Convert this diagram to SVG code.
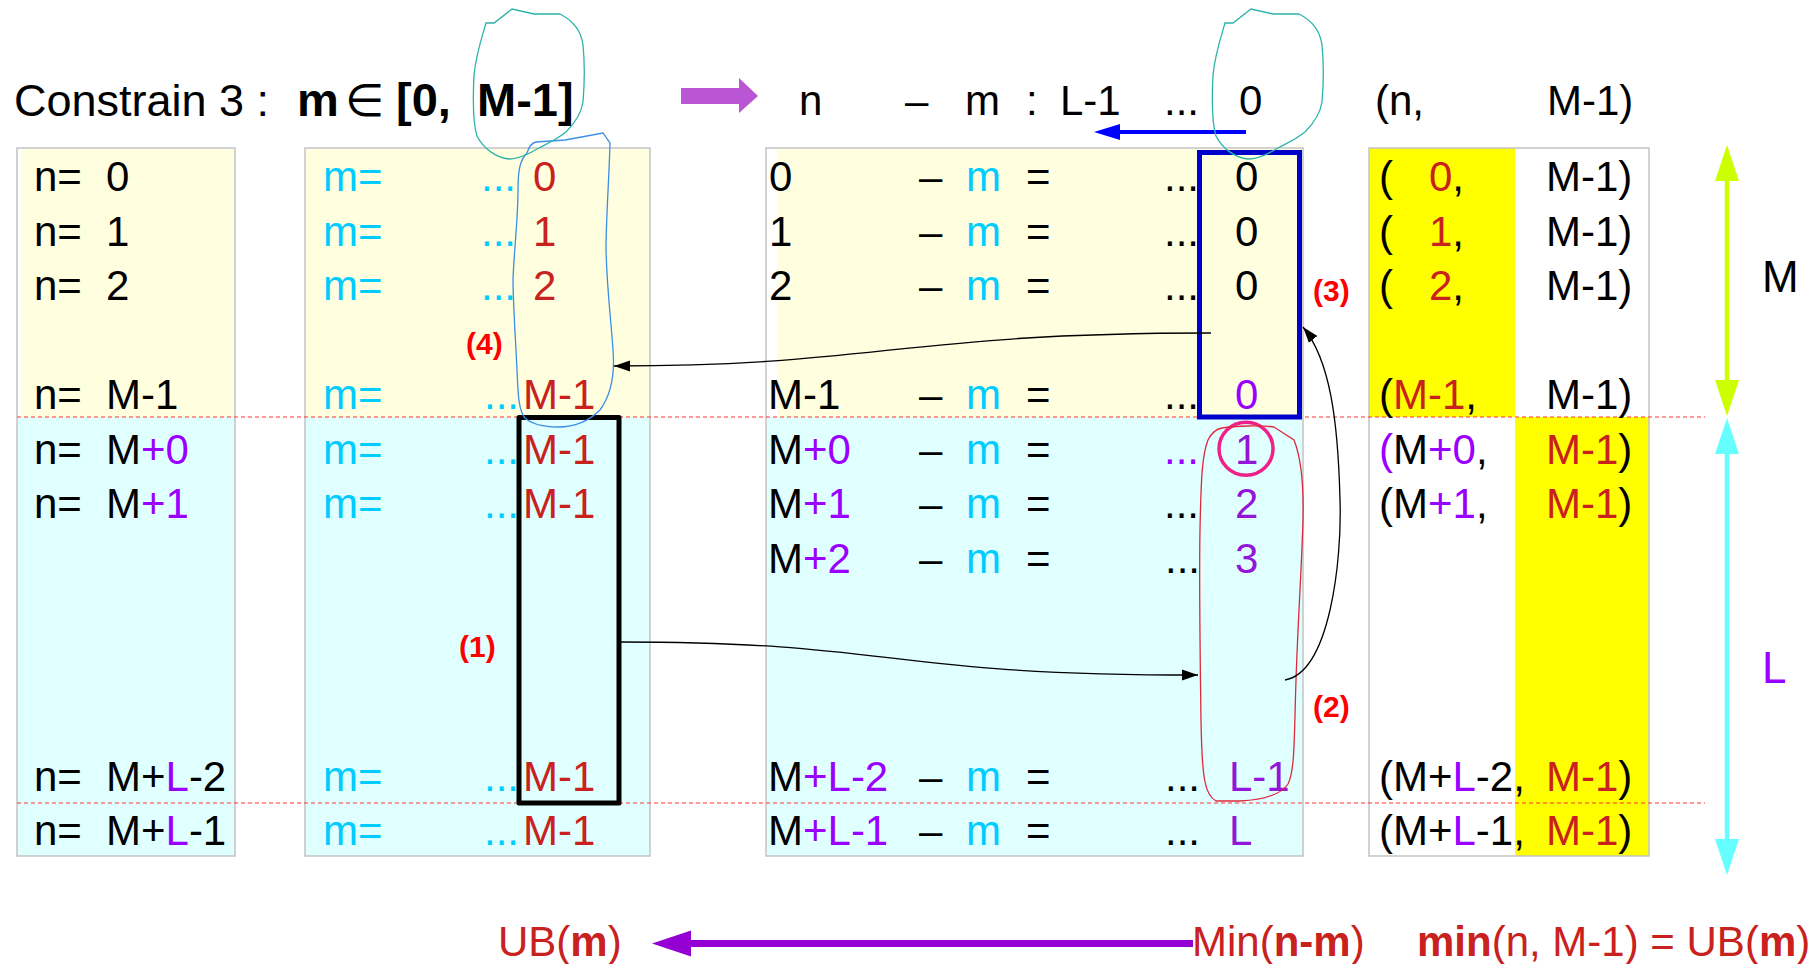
<svg xmlns="http://www.w3.org/2000/svg" xmlns:xlink="http://www.w3.org/1999/xlink" width="1816" height="964" viewBox="0 0 1816 964">
<style>
.t{font-family:'Liberation Sans',Arial,'DejaVu Sans',sans-serif;font-size:42px;fill:#000}
.ti{font-family:'Liberation Sans',Arial,'DejaVu Sans',sans-serif;font-size:45px;fill:#000}
.b{font-weight:bold}
.r{fill:#c9211e}
.c{fill:#00ccff}
.p{fill:#9900ff}
.v{fill:#9316d8}
.lbl{font-family:'Liberation Sans',Arial,sans-serif;font-size:30px;font-weight:bold;fill:#ff0000}
.border{fill:none;stroke:#c3c3c3;stroke-width:1.5}
.ly{fill:#ffffe0}
.lc{fill:#e0ffff}
.yy{fill:#ffff00}
.dash{stroke:#ff3333;stroke-width:1.2;stroke-dasharray:4 3;fill:none}
.conn{fill:none;stroke:#000;stroke-width:1.3}
.loop{fill:none;stroke-width:1.3}
</style>
<defs>
<marker id="ah" markerUnits="userSpaceOnUse" markerWidth="18" markerHeight="12" refX="16" refY="6" orient="auto">
<path d="M0,0.5 L16,6 L0,11.5 Z" fill="#000"/>
</marker>
<path id="tealLoop" d="M1225,23 L1233,23 L1251,9 L1273,14 L1299,14 C1311,20 1320,30 1322,45 C1324,65 1323,90 1322,102 C1320,115 1312,125 1305,132 C1295,140 1285,144 1278,148 C1268,154 1258,159 1248,159 C1235,158 1222,148 1216,136 C1211,120 1212,95 1213,75 C1215,55 1220,40 1225,23 Z"/>
</defs>
<rect width="1816" height="964" fill="#fff"/>

<g id="title">
<text class="ti" y="116"><tspan x="14">Constrain 3 :</tspan><tspan x="297" class="b" style="font-size:47px">m</tspan><tspan x="345">∈</tspan><tspan x="396" class="b" style="font-size:47px">[0,</tspan><tspan x="477" class="b" style="font-size:47px">M-1]</tspan></text>
<path d="M681,88 L739,88 L739,78 L758,96 L739,113 L739,104 L681,104 Z" fill="#ba55d3"/>
</g>

<g id="header">
<text class="t" y="115"><tspan x="799">n</tspan><tspan x="905">–</tspan><tspan x="965">m</tspan><tspan x="1026">:</tspan><tspan x="1060">L-1</tspan><tspan x="1164">...</tspan><tspan x="1239">0</tspan><tspan x="1375">(n,</tspan><tspan x="1547">M-1)</tspan></text>
<line x1="1246" y1="132" x2="1118" y2="132" stroke="#0000ff" stroke-width="4"/>
<path d="M1094,132 L1120,124 L1120,140 Z" fill="#0000ff"/>
</g>

<g id="table-n">
<rect class="ly" x="21" y="149" width="214" height="268"/>
<rect class="lc" x="17" y="417" width="218" height="439"/>
<rect class="border" x="17" y="148" width="218" height="708"/>
</g>
<g id="table-m">
<rect class="ly" x="305" y="149" width="345" height="268"/>
<rect class="lc" x="305" y="417" width="345" height="439"/>
<rect class="border" x="305" y="148" width="345" height="708"/>
</g>
<g id="table-nm">
<rect class="ly" x="777" y="149" width="526" height="268"/>
<rect class="lc" x="766" y="417" width="537" height="439"/>
<rect class="border" x="766" y="148" width="537" height="708"/>
</g>
<g id="table-pair">
<rect class="yy" x="1369" y="148" width="146" height="269"/>
<rect class="yy" x="1515" y="417" width="134" height="439"/>
<rect class="border" x="1369" y="148" width="280" height="708"/>
</g>

<g id="guides">
<line class="dash" x1="17" y1="417" x2="1705" y2="417"/>
<line class="dash" x1="17" y1="803" x2="1705" y2="803"/>
</g>

<g id="text-n">
<text class="t" y="191"><tspan x="34">n=</tspan><tspan x="106">0</tspan></text>
<text class="t" y="245.5"><tspan x="34">n=</tspan><tspan x="106">1</tspan></text>
<text class="t" y="300"><tspan x="34">n=</tspan><tspan x="106">2</tspan></text>
<text class="t" y="409"><tspan x="34">n=</tspan><tspan x="106">M-1</tspan></text>
<text class="t" y="463.5"><tspan x="34">n=</tspan><tspan x="106">M</tspan><tspan class="p">+0</tspan></text>
<text class="t" y="518"><tspan x="34">n=</tspan><tspan x="106">M</tspan><tspan class="p">+1</tspan></text>
<text class="t" y="790.5"><tspan x="34">n=</tspan><tspan x="106">M+</tspan><tspan class="p">L</tspan><tspan>-2</tspan></text>
<text class="t" y="845"><tspan x="34">n=</tspan><tspan x="106">M+</tspan><tspan class="p">L</tspan><tspan>-1</tspan></text>
</g>

<g id="text-m">
<text class="t" y="191"><tspan x="323" class="c">m=</tspan><tspan x="481" class="c">...</tspan><tspan x="533" class="r">0</tspan></text>
<text class="t" y="245.5"><tspan x="323" class="c">m=</tspan><tspan x="481" class="c">...</tspan><tspan x="533" class="r">1</tspan></text>
<text class="t" y="300"><tspan x="323" class="c">m=</tspan><tspan x="481" class="c">...</tspan><tspan x="533" class="r">2</tspan></text>
<text class="t" y="409"><tspan x="323" class="c">m=</tspan><tspan x="484" class="c">...</tspan><tspan x="523" class="r">M-1</tspan></text>
<text class="t" y="463.5"><tspan x="323" class="c">m=</tspan><tspan x="484" class="c">...</tspan><tspan x="523" class="r">M-1</tspan></text>
<text class="t" y="518"><tspan x="323" class="c">m=</tspan><tspan x="484" class="c">...</tspan><tspan x="523" class="r">M-1</tspan></text>
<text class="t" y="790.5"><tspan x="323" class="c">m=</tspan><tspan x="484" class="c">...</tspan><tspan x="523" class="r">M-1</tspan></text>
<text class="t" y="845"><tspan x="323" class="c">m=</tspan><tspan x="484" class="c">...</tspan><tspan x="523" class="r">M-1</tspan></text>
</g>

<g id="text-nm">
<text class="t" y="191"><tspan x="769">0</tspan><tspan x="919">–</tspan><tspan x="966" class="c">m</tspan><tspan x="1026">=</tspan><tspan x="1164">...</tspan><tspan x="1235">0</tspan></text>
<text class="t" y="245.5"><tspan x="769">1</tspan><tspan x="919">–</tspan><tspan x="966" class="c">m</tspan><tspan x="1026">=</tspan><tspan x="1164">...</tspan><tspan x="1235">0</tspan></text>
<text class="t" y="300"><tspan x="769">2</tspan><tspan x="919">–</tspan><tspan x="966" class="c">m</tspan><tspan x="1026">=</tspan><tspan x="1164">...</tspan><tspan x="1235">0</tspan></text>
<text class="t" y="409"><tspan x="768">M-1</tspan><tspan x="919">–</tspan><tspan x="966" class="c">m</tspan><tspan x="1026">=</tspan><tspan x="1164">...</tspan><tspan x="1235" class="p">0</tspan></text>
<text class="t" y="463.5"><tspan x="768">M</tspan><tspan class="p">+0</tspan><tspan x="919">–</tspan><tspan x="966" class="c">m</tspan><tspan x="1026">=</tspan><tspan x="1164" class="p">...</tspan><tspan x="1235" class="v">1</tspan></text>
<text class="t" y="518"><tspan x="768">M</tspan><tspan class="p">+1</tspan><tspan x="919">–</tspan><tspan x="966" class="c">m</tspan><tspan x="1026">=</tspan><tspan x="1164">...</tspan><tspan x="1235" class="v">2</tspan></text>
<text class="t" y="572.5"><tspan x="768">M</tspan><tspan class="p">+2</tspan><tspan x="919">–</tspan><tspan x="966" class="c">m</tspan><tspan x="1026">=</tspan><tspan x="1165">...</tspan><tspan x="1235" class="v">3</tspan></text>
<text class="t" y="790.5"><tspan x="768">M</tspan><tspan class="p">+L-2</tspan><tspan x="919">–</tspan><tspan x="966" class="c">m</tspan><tspan x="1026">=</tspan><tspan x="1165">...</tspan><tspan x="1229" class="v">L-1</tspan></text>
<text class="t" y="845"><tspan x="768">M</tspan><tspan class="p">+L-1</tspan><tspan x="919">–</tspan><tspan x="966" class="c">m</tspan><tspan x="1026">=</tspan><tspan x="1165">...</tspan><tspan x="1229" class="v">L</tspan></text>
</g>

<g id="text-pair">
<text class="t" y="191"><tspan x="1379">(</tspan><tspan x="1429" class="r">0</tspan><tspan>,</tspan><tspan x="1546">M-1)</tspan></text>
<text class="t" y="245.5"><tspan x="1379">(</tspan><tspan x="1429" class="r">1</tspan><tspan>,</tspan><tspan x="1546">M-1)</tspan></text>
<text class="t" y="300"><tspan x="1379">(</tspan><tspan x="1429" class="r">2</tspan><tspan>,</tspan><tspan x="1546">M-1)</tspan></text>
<text class="t" y="409"><tspan x="1379">(</tspan><tspan class="r">M-1</tspan><tspan>,</tspan><tspan x="1546">M-1)</tspan></text>
<text class="t" y="463.5"><tspan x="1379" class="p">(</tspan><tspan>M</tspan><tspan class="p">+0</tspan><tspan>,</tspan><tspan x="1546" class="r">M-1</tspan><tspan>)</tspan></text>
<text class="t" y="518"><tspan x="1379">(M</tspan><tspan class="p">+1</tspan><tspan>,</tspan><tspan x="1546" class="r">M-1</tspan><tspan>)</tspan></text>
<text class="t" y="790.5"><tspan x="1379">(M+</tspan><tspan class="p">L</tspan><tspan>-2,</tspan><tspan x="1546" class="r">M-1</tspan><tspan>)</tspan></text>
<text class="t" y="845"><tspan x="1379">(M+</tspan><tspan class="p">L</tspan><tspan>-1,</tspan><tspan x="1546" class="r">M-1</tspan><tspan>)</tspan></text>
</g>

<g id="range-M">
<line x1="1727" y1="178" x2="1727" y2="383" stroke="#ccff00" stroke-width="4.5"/>
<path d="M1727,145 L1739,181 L1715,181 Z M1727,416 L1739,380 L1715,380 Z" fill="#ccff00"/>
<text class="t" x="1762" y="292" style="font-size:44px">M</text>
</g>
<g id="range-L">
<line x1="1727" y1="450" x2="1727" y2="842" stroke="#66ffff" stroke-width="4.5"/>
<path d="M1727,418 L1739,454 L1715,454 Z M1727,875 L1739,839 L1715,839 Z" fill="#66ffff"/>
<text class="t p" x="1762" y="683" style="font-size:44px">L</text>
</g>

<g id="highlights">
<rect x="519" y="417.5" width="100" height="385.5" fill="none" stroke="#000" stroke-width="5" stroke-linejoin="round"/>
<rect x="1199.5" y="152.5" width="100" height="264.5" fill="none" stroke="#0000cc" stroke-width="5"/>
<ellipse cx="1246" cy="448.7" rx="27" ry="26.5" fill="none" stroke="#f0208a" stroke-width="3.5"/>
<path class="loop" stroke="#e0283c" d="M1222,428 C1235,426 1260,425 1274,427 L1294,440 C1300,455 1304,480 1303,520 C1302,560 1298,620 1296,680 C1294,740 1295,770 1288,784 C1280,796 1260,800 1240,801 L1216,801 C1205,795 1202,780 1201,720 C1200,650 1199,580 1200,530 C1201,480 1202,455 1208,440 C1212,432 1216,429 1222,428 Z"/>
<path class="loop" stroke="#3a8ee6" d="M527,153 C529,146 532,143 536,142 L565,140 L603,133 L610,143 C609,180 606,220 606,250 C607,290 611,320 613,350 C615,375 611,395 600,410 C590,420 575,427 558,427 C545,427 533,425 525,418 C518,410 518,390 517,370 C515,330 513,300 513,280 C514,250 518,220 518,190 C518,170 520,160 527,153 Z"/>
<use xlink:href="#tealLoop" class="loop" stroke="#2bb3a8"/>
<use xlink:href="#tealLoop" class="loop" stroke="#2bb3a8" transform="translate(-739,0)"/>
</g>

<g id="connectors">
<path class="conn" marker-end="url(#ah)" d="M621,642 C900,642 880,675 1198,675"/>
<path class="conn" marker-end="url(#ah)" d="M1285,680 C1330,672 1342,560 1340,500 C1338,420 1330,360 1303,327"/>
<path class="conn" marker-end="url(#ah)" d="M1211,333 C900,333 880,366 614,366"/>
<text class="lbl" x="459" y="657">(1)</text>
<text class="lbl" x="1313" y="717">(2)</text>
<text class="lbl" x="1313" y="301">(3)</text>
<text class="lbl" x="466" y="354">(4)</text>
</g>

<g id="bottom">
<line x1="689" y1="943.5" x2="1193" y2="943.5" stroke="#9400d3" stroke-width="7"/>
<path d="M652,943.5 L691,930.5 L691,956.5 Z" fill="#9400d3"/>
<text class="t r" y="956"><tspan x="498">UB(</tspan><tspan class="b">m</tspan><tspan>)</tspan></text>
<text class="t r" y="956"><tspan x="1192">Min(</tspan><tspan class="b">n-m</tspan><tspan>)</tspan></text>
<text class="t r" y="956"><tspan x="1417" class="b">min</tspan><tspan>(n, M-1) = UB(</tspan><tspan class="b">m</tspan><tspan>)</tspan></text>
</g>
</svg>
